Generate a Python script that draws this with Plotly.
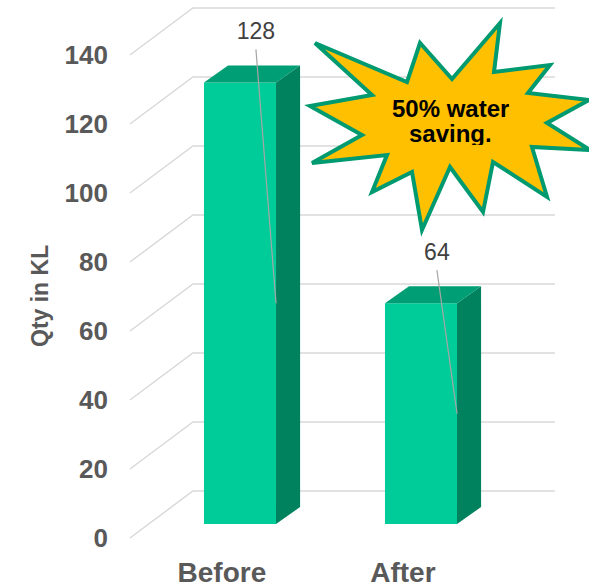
import plotly.graph_objects as go

categories = ["Before", "After"]
qty_kl = [128, 64]
tick_values = [0, 20, 40, 60, 80, 100, 120, 140]
axis_title = "Qty in KL"
callout_lines = ["50% water", "saving."]

FONT = "Liberation Sans, Arial, sans-serif"
GREY = "#595959"
FRONT = "#00CC99"
TOP = "#009E74"
SIDE = "#00825F"
GRID = "#D9D9D9"
STAR_FILL = "#FFC000"
STAR_LINE = "#009A70"

# fake 3d geometry, x in category units, y in value units
BAR_W = 0.398
BAR_BASE = -9.57
DEPTH_DX, DEPTH_DY = 0.133, 4.93
WALL_L, WALL_R = -0.26, 1.74
FLOOR_DX, FLOOR_DY = -0.348, -13.62

W, H = 589, 586
L_M, B_M = 115, 33
X_RANGE = [-0.6906, 1.9282]
Y_RANGE = [-17.97, 142.32]


def paper(px, py):
    """pixel in the page -> paper coords of the plot area"""
    return (px - L_M) / (W - L_M), (H - B_M - py) / (H - B_M)


fig = go.Figure()

# front faces
fig.add_trace(go.Bar(
    x=list(range(len(categories))), y=qty_kl, base=BAR_BASE, width=BAR_W,
    marker=dict(color=FRONT, line=dict(width=0)), showlegend=False,
    hoverinfo="skip",
))

# side and top faces
for i, v in enumerate(qty_kl):
    x0, x1 = i - BAR_W / 2, i + BAR_W / 2
    y0, y1 = BAR_BASE, BAR_BASE + v
    fig.add_trace(go.Scatter(
        x=[x1, x1 + DEPTH_DX, x1 + DEPTH_DX, x1, x1],
        y=[y0, y0 + DEPTH_DY, y1 + DEPTH_DY, y1, y0],
        fill="toself", fillcolor=SIDE, mode="lines", line=dict(width=0),
        showlegend=False, hoverinfo="skip",
    ))
    fig.add_trace(go.Scatter(
        x=[x0, x1, x1 + DEPTH_DX, x0 + DEPTH_DX, x0],
        y=[y1, y1, y1 + DEPTH_DY, y1 + DEPTH_DY, y1],
        fill="toself", fillcolor=TOP, mode="lines", line=dict(width=0),
        showlegend=False, hoverinfo="skip",
    ))
    # leader line + value label
    fig.add_trace(go.Scatter(
        x=[i + 0.088, x1], y=[v, v / 2 + BAR_BASE],
        mode="lines", line=dict(color="#A6A6A6", width=1.2),
        showlegend=False, hoverinfo="skip",
    ))
    fig.add_trace(go.Scatter(
        x=[i + 0.088], y=[v + 4.7], mode="text", text=[str(v)],
        textfont=dict(family=FONT, size=23, color="#404040"),
        showlegend=False, hoverinfo="skip",
    ))

# dummy trace so the front tick axis is drawn
fig.add_trace(go.Scatter(x=[None], y=[None], yaxis="y2", showlegend=False))

# gridlines: diagonal on the floor, flat on the back wall
for v in tick_values:
    fig.add_shape(
        type="path", layer="below", xref="x", yref="y",
        path=f"M {WALL_L + FLOOR_DX},{v + FLOOR_DY} L {WALL_L},{v} L {WALL_R},{v}",
        line=dict(color=GRID, width=1.5),
    )

# starburst callout
star_px = [
    (315, 43), (407, 82), (420, 43), (452, 79), (500, 23), (494, 72),
    (550, 65), (528, 93), (589, 100), (547, 123), (590, 150), (532, 147),
    (547, 197), (493, 162), (483, 212), (450, 167), (422, 230), (412, 172),
    (372, 192), (387, 155), (312, 163), (362, 135), (310, 106), (372, 95),
]
pts = [paper(px, py) for px, py in star_px]
path = "M " + " L ".join(f"{x:.4f},{y:.4f}" for x, y in pts) + " Z"
fig.add_shape(type="path", xref="paper", yref="paper", layer="above",
              path=path, fillcolor=STAR_FILL, line=dict(color=STAR_LINE, width=4))

for k, line in enumerate(callout_lines):
    ax, ay = paper(450, 108 + 25 * k)
    fig.add_annotation(
        x=ax, y=ay, xref="paper", yref="paper", text=line, showarrow=False,
        xanchor="center", yanchor="middle", height=24,
        font=dict(family=FONT, size=24, color="black", weight=700),
    )

tx, ty = paper(40, 296)
fig.add_annotation(
    x=tx, y=ty, xref="paper", yref="paper", text=axis_title, showarrow=False,
    textangle=-90, xanchor="center", yanchor="middle",
    font=dict(family=FONT, size=23, color=GREY, weight=700),
)

shift = -FLOOR_DY
fig.update_layout(
    width=W, height=H,
    margin=dict(l=L_M, r=0, t=0, b=B_M, autoexpand=False),
    paper_bgcolor="white", plot_bgcolor="white",
    xaxis=dict(
        range=X_RANGE, tickvals=[i - 0.1 for i in range(len(categories))],
        ticktext=categories, showgrid=False, zeroline=False, showline=False,
        ticks="", tickfont=dict(family=FONT, size=28, color=GREY, weight=700),
        fixedrange=True, automargin=False,
    ),
    yaxis=dict(range=Y_RANGE, visible=False, fixedrange=True, automargin=False),
    yaxis2=dict(
        range=[Y_RANGE[0] + shift, Y_RANGE[1] + shift], overlaying="y",
        side="left", tickvals=tick_values, showgrid=False, zeroline=False,
        showline=False, ticks="", ticklabelstandoff=6,
        tickfont=dict(family=FONT, size=26, color=GREY, weight=700),
        fixedrange=True, automargin=False,
    ),
    showlegend=False,
)

# drop the browser's default page margin so the figure sits at 0,0
fig.write_html("out.html", config={"displayModeBar": False},
               post_script="document.body.style.margin = '0';")
